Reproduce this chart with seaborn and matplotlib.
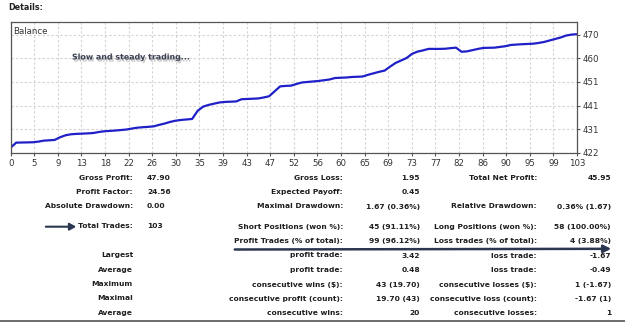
import numpy as np
import pandas as pd
import seaborn as sns
import matplotlib
matplotlib.use("Agg")
import matplotlib.pyplot as plt
import matplotlib.patheffects as pe

# ---------------- data ----------------
trade_no = list(range(104))
balance = [
    424.00, 426.00, 426.05, 426.10, 426.15, 426.40, 426.80, 426.95, 427.10, 428.20,
    429.00, 429.40, 429.55, 429.65, 429.75, 429.90, 430.30, 430.60, 430.75, 430.90,
    431.10, 431.30, 431.70, 432.05, 432.25, 432.40, 432.60, 433.20, 433.75, 434.40,
    434.90, 435.20, 435.40, 435.60, 438.90, 440.60, 441.30, 441.80, 442.30, 442.50,
    442.60, 442.70, 443.60, 443.70, 443.80, 443.90, 444.30, 444.80, 446.80, 448.80,
    449.00, 449.10, 449.80, 450.40, 450.60, 450.80, 451.00, 451.30, 451.60, 452.20,
    452.30, 452.40, 452.60, 452.70, 452.80, 453.50, 454.10, 454.70, 455.20, 456.80,
    458.30, 459.30, 460.30, 462.00, 462.90, 463.40, 464.00, 464.00, 464.00, 464.05,
    464.30, 464.50, 462.83, 463.00, 463.50, 464.00, 464.40, 464.45, 464.50, 464.80,
    465.10, 465.60, 465.75, 465.90, 466.00, 466.10, 466.40, 466.80, 467.40, 468.00,
    468.60, 469.40, 469.80, 469.95,
]
x_tick_labels = ["0", "5", "9", "13", "18", "22", "26", "30", "35", "39", "43", "47",
                 "52", "56", "60", "65", "69", "73", "77", "82", "86", "90", "95", "99", "103"]
y_tick_labels = ["422", "431", "441", "451", "460", "470"]

col_a_labels = ["Gross Profit:", "Profit Factor:", "Absolute Drawdown:", "Total Trades:", "",
                "Largest", "Average", "Maximum", "Maximal", "Average"]
col_a_values = ["47.90", "24.56", "0.00", "103", "", "", "", "", "", ""]
col_b_labels = ["Gross Loss:", "Expected Payoff:", "Maximal Drawdown:", "Short Positions (won %):",
                "Profit Trades (% of total):", "profit trade:", "profit trade:",
                "consecutive wins ($):", "consecutive profit (count):", "consecutive wins:"]
col_b_values = ["1.95", "0.45", "1.67 (0.36%)", "45 (91.11%)", "99 (96.12%)", "3.42", "0.48",
                "43 (19.70)", "19.70 (43)", "20"]
col_c_labels = ["Total Net Profit:", "", "Relative Drawdown:", "Long Positions (won %):",
                "Loss trades (% of total):", "loss trade:", "loss trade:",
                "consecutive losses ($):", "consecutive loss (count):", "consecutive losses:"]
col_c_values = ["45.95", "", "0.36% (1.67)", "58 (100.00%)", "4 (3.88%)", "-1.67", "-0.49",
                "1 (-1.67)", "-1.67 (1)", "1"]

# ---------------- style ----------------
sns.set_theme(style="white")
plt.rcParams["font.family"] = ["DejaVu Sans"]

W, H = 625, 322
fig = plt.figure(figsize=(W / 100, H / 100), dpi=100)
fig.patch.set_facecolor("white")


def fx(x):
    return x / W


def fy(y):
    return 1 - y / H


ax = fig.add_axes([fx(10.7), fy(153), (577 - 10.7) / W, (153 - 22) / H])
df = pd.DataFrame({"trade": trade_no, "balance": balance})
sns.lineplot(data=df, x="trade", y="balance", ax=ax, color="#2020c8", lw=1.6)

ax.set_xlim(0, 103)
ax.set_ylim(421.8, 474.9)
ax.set_xticks(np.linspace(0, 103, len(x_tick_labels)))
ax.set_xticklabels(x_tick_labels)
ax.set_yticks(np.linspace(421.8, 469.8, len(y_tick_labels)))
ax.set_yticklabels(y_tick_labels)
ax.yaxis.tick_right()
ax.set_xlabel("")
ax.set_ylabel("")
ax.grid(True, ls=(0, (2, 2)), color="#d2d2d2", lw=0.8)
ax.tick_params(axis="both", labelsize=6.2, labelcolor="#333333", color="#555555",
               length=2.5, width=0.8, pad=1.5, direction="out")
ax.tick_params(axis="x", bottom=True)
ax.tick_params(axis="y", right=True)
for s in ax.spines.values():
    s.set_color("#555555")
    s.set_linewidth(0.9)

ax.text(0.005, 0.93, "Balance", transform=ax.transAxes, fontsize=6.2, color="#333333",
        ha="left", va="center")
ax.text(fx(72), fy(57), "Slow and steady trading...", transform=fig.transFigure,
        fontsize=5.7, fontweight="bold", color="#3a3f52", ha="left", va="center",
        path_effects=[pe.SimplePatchShadow(offset=(1, -1.5), shadow_rgbFace="#888888", alpha=0.5),
                      pe.Normal()])

fig.text(fx(8), fy(8), "Details:", fontsize=5.8, fontweight="bold", color="#222222",
         ha="left", va="center")

# ---------------- table ----------------
row_y = [177.5, 192, 206.5, 226.5, 241, 255.5, 270, 284.5, 298.5, 313]
tkw = dict(fontsize=5.4, fontweight="bold", color="#1e1e1e", va="center")
for i, y in enumerate(row_y):
    fig.text(fx(133), fy(y), col_a_labels[i], ha="right", **tkw)
    fig.text(fx(147), fy(y), col_a_values[i], ha="left", **tkw)
    fig.text(fx(343), fy(y), col_b_labels[i], ha="right", **tkw)
    fig.text(fx(420), fy(y), col_b_values[i], ha="right", **tkw)
    fig.text(fx(537), fy(y), col_c_labels[i], ha="right", **tkw)
    fig.text(fx(611), fy(y), col_c_values[i], ha="right", **tkw)

navy = "#2b3650"
fig.add_artist(matplotlib.patches.FancyArrowPatch(
    (fx(43), fy(226.7)), (fx(79), fy(226.7)), transform=fig.transFigure,
    arrowstyle="-|>,head_length=2.5,head_width=1.4", lw=1.5, color=navy, mutation_scale=1.5))
fig.add_artist(matplotlib.patches.FancyArrowPatch(
    (fx(232), fy(249.5)), (fx(614), fy(248.8)), transform=fig.transFigure,
    arrowstyle="-|>,head_length=3,head_width=1.5", lw=1.8, color=navy, mutation_scale=1.5))
fig.add_artist(matplotlib.lines.Line2D([0, 1], [fy(320.5), fy(320.5)], transform=fig.transFigure,
                                       color="#555555", lw=1.2))

fig.savefig("out.png", dpi=100, facecolor="white")
